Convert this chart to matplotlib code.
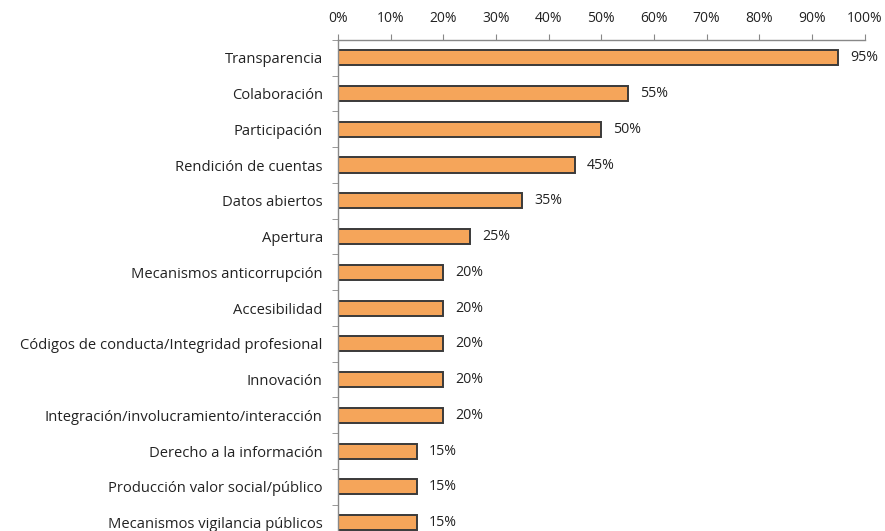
import matplotlib
matplotlib.use("Agg")
import matplotlib.pyplot as plt
import numpy as np
from matplotlib.ticker import FixedLocator

categories = ["Transparencia", "Colaboración", "Participación", "Rendición de cuentas",
              "Datos abiertos", "Apertura", "Mecanismos anticorrupción", "Accesibilidad",
              "Códigos de conducta/Integridad profesional", "Innovación",
              "Integración/involucramiento/interacción", "Derecho a la información",
              "Producción valor social/público", "Mecanismos vigilancia públicos"]
values = [95, 55, 50, 45, 35, 25, 20, 20, 20, 20, 20, 15, 15, 15]
xticks = [0, 10, 20, 30, 40, 50, 60, 70, 80, 90, 100]

plt.rcParams['font.family'] = ['Open Sans', 'DejaVu Sans']
fig = plt.figure(figsize=(8.85, 5.31), dpi=100)
ax = fig.add_axes([0.382, -0.018, 0.595, 0.943])

y = np.arange(len(categories))
ax.barh(y, values, height=0.42, color="#F5A55A", edgecolor="#3a3a3a", linewidth=1.4)
for yi, v in zip(y, values):
    ax.text(v + 2.3, yi, f"{v}%", va="center", ha="left", fontsize=10.2, color="#222222")

ax.set_ylim(len(categories) - 0.5, -0.5)
ax.set_xlim(0, 100)
ax.set_yticks(y)
ax.set_yticklabels(categories, fontsize=10.6, color="#222222")
ax.yaxis.set_minor_locator(FixedLocator(np.arange(-0.5, len(categories), 1)))
ax.tick_params(axis="y", which="major", length=0, pad=11)
ax.tick_params(axis="y", which="minor", length=4, color="#888888")

ax.xaxis.tick_top()
ax.set_xticks(xticks)
ax.set_xticklabels([f"{t}%" for t in xticks], fontsize=10, color="#222222")
ax.tick_params(axis="x", length=4, color="#888888", pad=6)

for s in ["right", "bottom"]:
    ax.spines[s].set_visible(False)
for s in ["left", "top"]:
    ax.spines[s].set_color("#888888")
    ax.spines[s].set_linewidth(1)

fig.savefig("out.png", dpi=100)
